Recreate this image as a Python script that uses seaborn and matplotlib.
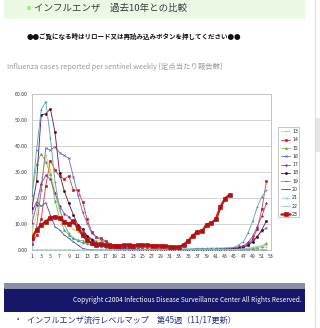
import matplotlib.pyplot as plt
import matplotlib.patches as mpatches
from matplotlib.ticker import FormatStrFormatter
import seaborn as sns

sns.set_style('white')
plt.rcParams['font.family'] = ['Noto Sans CJK JP', 'DejaVu Sans']

W, H = 320, 328

# weekly cases per sentinel, one list per year
weeks = list(range(1, 53))
y13 = [6.5, 14.0, 26.0, 36.4, 31.0, 22.0, 15.0, 11.5, 9.5, 8.0, 7.0, 6.0, 5.0, 4.2, 3.8, 3.4, 3.0, 2.2, 1.5, 1.0,
       0.7, 0.5, 0.4, 0.3, 0.2, 0.2, 0.1, 0.1, 0.1, 0.1, 0.1, 0.1, 0.1, 0.1, 0.1, 0.1, 0.1, 0.1, 0.1, 0.1,
       0.1, 0.1, 0.1, 0.1, 0.2, 0.2, 0.3, 0.4, 0.5, 0.7, 0.9, 1.2]
y14 = [2.4, 5.6, 11.8, 24.8, 34.4, 30.8, 28.5, 27.3, 28.5, 23.0, 23.0, 18.6, 11.8, 7.0, 4.9, 4.5, 3.5, 2.5, 1.8, 1.3,
       0.9, 0.6, 0.4, 0.3, 0.2, 0.2, 0.1, 0.1, 0.1, 0.1, 0.1, 0.1, 0.1, 0.1, 0.1, 0.1, 0.1, 0.1, 0.1, 0.2,
       0.2, 0.3, 0.4, 0.5, 0.7, 1.0, 1.5, 2.3, 4.2, 8.0, 15.6, 26.5]
y15 = [21.5, 33.0, 37.0, 34.0, 29.2, 19.0, 12.3, 7.7, 5.8, 4.5, 3.8, 3.6, 3.2, 2.6, 2.0, 1.5, 1.2, 0.9, 0.6, 0.4,
       0.3, 0.2, 0.1, 0.1, 0.1, 0.1, 0.1, 0.1, 0.1, 0.1, 0.1, 0.1, 0.1, 0.1, 0.1, 0.1, 0.1, 0.1, 0.1, 0.1,
       0.1, 0.1, 0.1, 0.1, 0.1, 0.2, 0.3, 0.4, 0.6, 1.0, 1.5, 2.6]
y16 = [2.5, 9.0, 23.0, 39.2, 38.3, 39.8, 37.4, 36.4, 35.3, 28.2, 21.2, 14.7, 10.3, 6.4, 4.9, 4.0, 3.0, 2.0, 1.2, 0.8,
       0.5, 0.4, 0.3, 0.2, 0.2, 0.1, 0.1, 0.1, 0.1, 0.1, 0.1, 0.1, 0.1, 0.1, 0.1, 0.1, 0.1, 0.1, 0.1, 0.1,
       0.2, 0.3, 0.4, 0.5, 0.6, 0.8, 1.2, 2.0, 3.4, 5.2, 7.2, 8.6]
y17 = [10.3, 17.5, 25.5, 28.7, 27.3, 22.0, 17.0, 14.0, 12.8, 10.5, 8.4, 7.0, 5.5, 4.2, 3.2, 2.5, 1.8, 1.3, 1.0, 0.8,
       0.5, 0.4, 0.3, 0.2, 0.2, 0.1, 0.1, 0.1, 0.1, 0.1, 0.1, 0.1, 0.1, 0.1, 0.1, 0.1, 0.1, 0.1, 0.1, 0.1,
       0.2, 0.3, 0.4, 0.5, 0.8, 1.2, 1.6, 2.9, 5.2, 8.9, 13.0, 17.9]
y18 = [16.3, 26.4, 51.9, 52.4, 54.3, 45.4, 29.5, 22.8, 18.0, 13.5, 9.6, 8.0, 5.4, 3.8, 2.5, 1.8, 1.4, 1.0, 0.7, 0.5,
       0.4, 0.3, 0.2, 0.1, 0.1, 0.1, 0.1, 0.1, 0.1, 0.1, 0.1, 0.1, 0.1, 0.1, 0.1, 0.1, 0.1, 0.1, 0.1, 0.2,
       0.2, 0.2, 0.3, 0.4, 0.5, 0.6, 0.9, 1.8, 3.2, 5.1, 7.7, 11.3]
y19 = [20.8, 38.5, 53.9, 57.1, 43.2, 26.3, 16.0, 10.0, 6.5, 4.5, 3.5, 2.7, 2.2, 1.8, 1.5, 1.3, 1.1, 0.7, 0.5, 0.4,
       0.3, 0.3, 0.3, 0.3, 0.2, 0.2, 0.2, 0.2, 0.2, 0.3, 0.3, 0.3, 0.3, 0.4, 0.4, 0.5, 0.6, 0.6, 0.6, 0.7,
       0.7, 0.7, 0.8, 0.9, 1.0, 2.0, 3.2, 6.5, 11.0, 16.5, 20.5, 23.0]
y20 = [14.4, 18.6, 16.9, 18.2, 13.5, 9.0, 7.7, 5.8, 4.5, 3.2, 1.9, 0.6, 0.2, 0.1, 0.0, 0.0, 0.0, 0.0, 0.0, 0.0,
       0.0, 0.0, 0.0, 0.0, 0.0, 0.0, 0.0, 0.0, 0.0, 0.0, 0.0, 0.0, 0.0, 0.0, 0.0, 0.0, 0.0, 0.0, 0.0, 0.0,
       0.0, 0.0, 0.0, 0.0, 0.0, 0.0, 0.0, 0.0, 0.0, 0.0, 0.0, 0.0]
y21 = [0.0] * 52
y22 = [0.0, 0.0, 0.0, 0.0, 0.0, 0.0, 0.0, 0.0, 0.0, 0.0, 0.0, 0.0, 0.0, 0.0, 0.0, 0.0, 0.0, 0.0, 0.0, 0.0,
       0.0, 0.0, 0.0, 0.0, 0.0, 0.0, 0.0, 0.0, 0.0, 0.0, 0.0, 0.0, 0.0, 0.0, 0.0, 0.1, 0.1, 0.1, 0.1, 0.1,
       0.1, 0.1, 0.1, 0.1, 0.2, 0.3, 0.5, 0.7, 1.0, 1.3, 1.6, 1.9]
y23 = [4.7, 7.7, 9.6, 10.9, 12.4, 12.8, 12.2, 10.9, 9.9, 11.2, 8.3, 5.8, 3.8, 2.6, 1.9, 2.2, 1.9, 1.7, 1.6, 1.7,
       1.8, 1.8, 1.7, 1.8, 1.8, 1.8, 1.7, 1.7, 1.6, 1.5, 1.3, 1.0, 1.2, 2.0, 3.5, 5.5, 7.0, 7.2, 9.8, 10.3,
       11.8, 16.5, 19.8, 21.2]

years = ['13', '14', '15', '16', '17', '18', '19', '20', '21', '22', '23']
values = [y13, y14, y15, y16, y17, y18, y19, y20, y21, y22, y23]
colors = ['#e8d84a', '#e5474a', '#7cc46a', '#7078c4', '#a050a8', '#7a2050',
          '#5aa8bc', '#5060a8', '#90d0e0', '#a8c8d8', '#c81e1e']
mcolors = ['#e0c830', '#b82024', '#58a848', '#5058b0', '#803090', '#3a0c20',
           '#4090a8', '#384890', '#80c8d8', '#98bcd0', '#b01010']
markers = ['+', 's', '^', 'x', '*', 'o', '+', '_', 'x', '.', 's']

fig = plt.figure(figsize=(W / 100, H / 100), dpi=100)


def fx(px):
    return px / W


def fy(py):
    return 1 - py / H


def rect(x0, y0, x1, y1, color):
    fig.add_artist(mpatches.Rectangle((fx(x0), fy(y1)), (x1 - x0) / W, (y1 - y0) / H,
                                      transform=fig.transFigure, color=color, lw=0, zorder=0))


# page header
rect(4, 0, 305, 19, '#ebf8e4')
rect(27, 6, 31, 10, '#b4e49c')
fig.text(fx(34), fy(8.5), 'インフルエンザ　過去10年との比較', fontsize=6.8, color='#3a3a3a',
         va='center', ha='left')
fig.text(fx(134), fy(36.5), '●●ご覧になる時はリロード又は再読み込みボタンを押してください●●',
         fontsize=4.7, fontweight='bold', color='#111111', va='center', ha='center')
fig.text(fx(7), fy(66.5), 'Influenza cases reported per sentinel weekly [定点当たり報告数]',
         fontsize=5.3, color='#9a9a9a', va='center', ha='left')

# scrollbar
fig.add_artist(plt.Line2D([fx(315), fx(315)], [0, 1], transform=fig.transFigure, color='#dedede', lw=0.8))
rect(316, 118, 320, 152, '#e6e6e6')

# chart
ax = fig.add_axes([fx(32), fy(250), (271 - 32) / W, (250 - 94) / H])
for i, yr in enumerate(years):
    vals = values[i]
    thick = yr == '23'
    sns.lineplot(x=weeks[:len(vals)], y=vals, ax=ax, color=colors[i], label=yr,
                 marker=markers[i], markersize=2.3 if thick else 1.5,
                 markeredgecolor=mcolors[i], markerfacecolor=mcolors[i],
                 markeredgewidth=0.45, linewidth=1.8 if thick else 0.65,
                 linestyle='--' if yr == '21' else '-', zorder=5 if thick else 3)

ax.set_xlim(1, 53)
ax.set_ylim(0, 60)
ax.set_xticks(range(1, 54, 2))
ax.set_yticks(range(0, 61, 10))
ax.yaxis.set_major_formatter(FormatStrFormatter('%.2f'))
ax.grid(axis='y', color='#cccccc', lw=0.6)
ax.grid(axis='x', visible=False)
for s in ax.spines.values():
    s.set_color('#c4c4c4')
    s.set_linewidth(0.7)
ax.tick_params(axis='y', length=0, pad=3.0, labelsize=3.7, labelcolor='#333333')
ax.tick_params(axis='x', length=1.2, width=0.5, color='#c4c4c4', pad=1.6, labelsize=3.7,
               labelcolor='#333333')
ax.set_xlabel('')
ax.set_ylabel('')

# legend
rect(278, 127, 299.5, 218, '#c8c8c8')
rect(278.6, 127.6, 298.9, 217.4, 'white')
handles, labels = ax.get_legend_handles_labels()
ax.legend(handles, labels, loc='upper left', bbox_to_anchor=(fx(280.5), fy(128)),
          bbox_transform=fig.transFigure, frameon=False, prop={'family': 'DejaVu Sans', 'size': 3.3},
          handlelength=1.9, handletextpad=0.4, labelspacing=0.72, borderpad=0.2, borderaxespad=0)

# footer
rect(4, 283, 305, 289, '#8a8ea6')
rect(4, 289, 305, 312, '#17176a')
fig.text(fx(302), fy(300.5), 'Copyright c2004 Infectious Disease Surveillance Center All Rights Reserved.',
         fontsize=4.7, color='white', va='center', ha='right')
fig.text(fx(18), fy(319.5), '•', fontsize=5, color='#1e2a80', va='center', ha='center')
fig.text(fx(27), fy(319.5), 'インフルエンザ流行レベルマップ　第45週（11/17更新）', fontsize=5.85,
         color='#1e2a80', va='center', ha='left')

fig.savefig('out.png', dpi=100)
